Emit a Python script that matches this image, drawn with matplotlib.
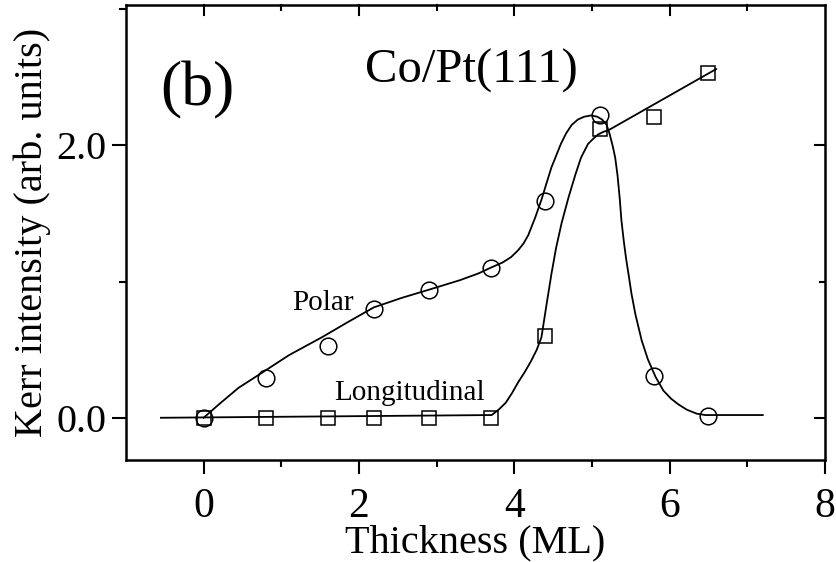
import matplotlib
matplotlib.use("Agg")
import matplotlib.pyplot as plt
import numpy as np

# Data
polarX = [0.0, 0.8, 1.6, 2.2, 2.9, 3.7, 4.4, 5.1, 5.8, 6.5]
polarY = [0.0, 0.29, 0.53, 0.80, 0.94, 1.10, 1.59, 2.22, 0.31, 0.01]
longX = [0.0, 0.8, 1.6, 2.2, 2.9, 3.7, 4.4, 5.1, 5.8, 6.5]
longY = [0.0, 0.0, 0.0, 0.0, 0.0, 0.0, 0.60, 2.12, 2.21, 2.53]

# Guide curves
polarCurveX = [0.0, 0.2, 0.45, 0.75, 1.1, 1.52, 1.85, 2.19, 2.55, 2.90, 3.3, 3.54, 3.69,
               3.85, 3.96, 4.05, 4.12, 4.18, 4.27, 4.35, 4.42, 4.48, 4.53, 4.60, 4.67,
               4.74, 4.82, 4.90, 4.99, 5.07, 5.13, 5.19, 5.23, 5.27, 5.30, 5.33, 5.36,
               5.38, 5.41, 5.44, 5.47, 5.51, 5.56, 5.64, 5.72, 5.82, 5.92, 6.02, 6.11,
               6.22, 6.35, 6.46, 6.8, 7.2]
polarCurveY = [0.0, 0.10, 0.22, 0.33, 0.46, 0.59, 0.70, 0.81, 0.88, 0.94, 1.01, 1.06, 1.10,
               1.14, 1.18, 1.23, 1.28, 1.34, 1.47, 1.60, 1.73, 1.84, 1.91, 2.01, 2.09,
               2.15, 2.19, 2.21, 2.22, 2.21, 2.19, 2.15, 2.08, 1.99, 1.91, 1.78, 1.60,
               1.45, 1.30, 1.17, 1.06, 0.91, 0.76, 0.57, 0.43, 0.30, 0.20, 0.14, 0.10,
               0.06, 0.03, 0.02, 0.02, 0.02]
longCurveX = [-0.55, 3.71, 3.80, 3.89, 3.97, 4.05, 4.14, 4.22, 4.29, 4.35, 4.41, 4.48,
              4.54, 4.61, 4.70, 4.79, 4.86, 4.95, 5.02, 5.08, 5.15, 5.21, 6.6]
longCurveY = [0.0, 0.02, 0.06, 0.11, 0.18, 0.26, 0.34, 0.42, 0.50, 0.59, 0.81, 1.06,
              1.25, 1.43, 1.62, 1.79, 1.91, 2.01, 2.05, 2.08, 2.10, 2.11, 2.56]

plt.rcParams['font.family'] = ['Liberation Serif', 'DejaVu Serif']

fig = plt.figure(figsize=(8.37, 5.62), dpi=100)
ax = fig.add_axes([0.1505, 0.1815, 0.835, 0.8095])

ax.plot(polarCurveX, polarCurveY, color="black", linewidth=1.3)
ax.plot(longCurveX, longCurveY, color="black", linewidth=1.3)
ax.plot(polarX, polarY, linestyle="none", marker="o", markersize=12,
        markerfacecolor="none", markeredgecolor="black", markeredgewidth=1.1)
ax.plot(longX, longY, linestyle="none", marker="s", markersize=10,
        markerfacecolor="none", markeredgecolor="black", markeredgewidth=1.1)

ax.set_xlim(-1, 8)
ax.set_ylim(-0.31, 3.03)
ax.set_xticks([0, 2, 4, 6, 8])
ax.set_xticks([1, 3, 5, 7], minor=True)
ax.set_yticks([0.0, 2.0])
ax.set_yticklabels(["0.0", "2.0"])
ax.set_yticks([1.0, 3.0], minor=True)

# Ticks point down on bottom/top and left on left/right
ax.tick_params(axis="x", which="both", bottom=True, top=False, direction="out",
               labelsize=30, pad=10)
ax.tick_params(axis="x", which="major", length=10, width=1.5)
ax.tick_params(axis="x", which="minor", length=5, width=1.5)
ax.tick_params(axis="y", which="both", left=True, right=False, direction="out",
               labelsize=29, pad=4)
ax.tick_params(axis="y", which="major", length=10, width=1.5)
ax.tick_params(axis="y", which="minor", length=5, width=1.5)
for xv, ln in [(0, 10), (2, 10), (4, 10), (6, 10), (1, 5), (3, 5), (5, 5), (7, 5)]:
  ax.plot([xv, xv], [3.03, 3.03 - ln / 136.5], color="black", linewidth=1.5,
          clip_on=False)
for yv, ln in [(0.0, 10), (2.0, 10), (1.0, 5)]:
  ax.plot([8, 8 - ln / 77.7], [yv, yv], color="black", linewidth=1.5, clip_on=False)

for s in ax.spines.values():
  s.set_linewidth(1.8)

ax.set_xlabel("Thickness (ML)", fontsize=29, labelpad=-1)
ax.set_ylabel("Kerr intensity (arb. units)", fontsize=29, labelpad=4)

ax.text(-0.08, 2.40, "(b)", fontsize=46, ha="center", va="center")
ax.text(3.45, 2.55, "Co/Pt(111)", fontsize=35, ha="center", va="center")
ax.text(1.54, 0.84, "Polar", fontsize=21, ha="center", va="center")
ax.text(2.65, 0.18, "Longitudinal", fontsize=21, ha="center", va="center")

fig.savefig("out.png", dpi=100)
